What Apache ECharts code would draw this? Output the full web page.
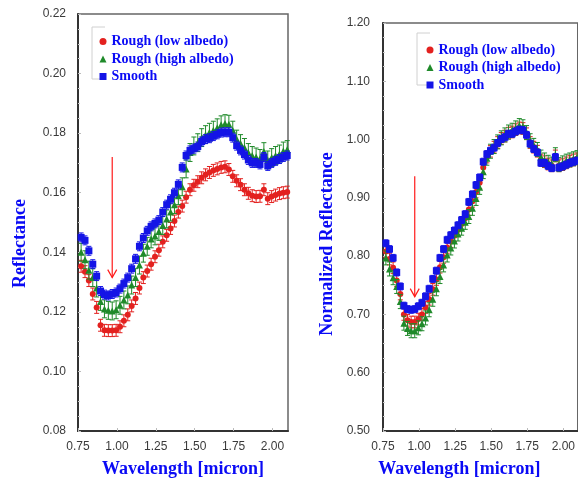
<!DOCTYPE html>
<html>
<head>
<meta charset="utf-8">
<script src="https://cdn.jsdelivr.net/npm/echarts@6/dist/echarts.min.js"></script>
<style>
html,body{margin:0;padding:0;background:#fff;}
#chart{width:578px;height:483px;}
</style>
</head>
<body>
<div id="chart"></div>
<script>
// ---- data ----
const seriesNames = ['Rough (low albedo)', 'Rough (high albedo)', 'Smooth'];

const wavelength = [0.77,0.795,0.82,0.845,0.87,0.895,0.92,0.945,0.97,0.995,1.02,1.045,1.07,1.095,1.12,1.145,1.17,1.195,1.22,1.245,1.27,1.295,1.32,1.345,1.37,1.395,1.42,1.445,1.47,1.495,1.52,1.545,1.57,1.595,1.62,1.645,1.67,1.695,1.72,1.745,1.77,1.795,1.82,1.845,1.87,1.895,1.92,1.945,1.97,1.995,2.02,2.045,2.07,2.095];

// Left panel: Reflectance
const reflLow = [0.1353,0.1335,0.1305,0.126,0.1215,0.1155,0.1138,0.1137,0.1137,0.1138,0.115,0.117,0.119,0.122,0.1245,0.128,0.1315,0.1337,0.136,0.1385,0.1407,0.1435,0.1457,0.148,0.1505,0.1535,0.1555,0.1585,0.161,0.1625,0.1637,0.165,0.166,0.1668,0.1675,0.168,0.1685,0.1687,0.1678,0.1655,0.164,0.1627,0.161,0.1598,0.159,0.1587,0.1588,0.161,0.158,0.1587,0.1592,0.1597,0.16,0.1602];
const reflHigh = [0.14,0.1375,0.134,0.1315,0.128,0.1235,0.121,0.1205,0.1203,0.1207,0.1222,0.124,0.1257,0.129,0.1315,0.1357,0.1397,0.142,0.1445,0.1455,0.147,0.149,0.1512,0.1535,0.156,0.159,0.162,0.168,0.1735,0.1757,0.1768,0.1785,0.1795,0.1803,0.181,0.1818,0.1828,0.1832,0.183,0.181,0.178,0.1765,0.1752,0.1735,0.1725,0.172,0.1715,0.1738,0.171,0.1718,0.1725,0.173,0.174,0.1745];
const reflSmooth = [0.145,0.144,0.1405,0.136,0.132,0.127,0.1258,0.1255,0.126,0.1265,0.1278,0.1295,0.1315,0.1345,0.1378,0.142,0.1448,0.1472,0.1487,0.1497,0.1508,0.1535,0.156,0.1578,0.16,0.1628,0.1685,0.1725,0.1742,0.1748,0.1755,0.1772,0.178,0.1783,0.179,0.1796,0.1802,0.1803,0.1803,0.1785,0.1758,0.1742,0.1728,0.171,0.17,0.17,0.1695,0.172,0.169,0.17,0.1707,0.1713,0.172,0.1725];

// Right panel: Normalized Reflectance
const normLow = [0.808,0.795,0.78,0.758,0.735,0.7,0.69,0.687,0.687,0.692,0.7,0.712,0.726,0.743,0.76,0.781,0.798,0.815,0.825,0.835,0.845,0.855,0.865,0.88,0.894,0.91,0.926,0.952,0.97,0.98,0.987,0.995,1.002,1.006,1.011,1.013,1.017,1.02,1.019,1.01,0.995,0.987,0.98,0.965,0.962,0.958,0.955,0.972,0.955,0.957,0.96,0.963,0.965,0.967];
const normHigh = [0.797,0.778,0.763,0.748,0.722,0.685,0.676,0.672,0.672,0.677,0.684,0.694,0.708,0.726,0.744,0.765,0.785,0.802,0.814,0.826,0.838,0.848,0.858,0.868,0.882,0.899,0.918,0.945,0.968,0.98,0.988,0.996,1.003,1.008,1.013,1.016,1.02,1.024,1.022,1.012,0.998,0.99,0.983,0.97,0.965,0.961,0.958,0.974,0.957,0.96,0.963,0.965,0.967,0.969];
const normSmooth = [0.822,0.812,0.797,0.772,0.748,0.715,0.709,0.708,0.709,0.714,0.72,0.731,0.744,0.761,0.775,0.797,0.812,0.828,0.836,0.844,0.853,0.862,0.872,0.893,0.906,0.922,0.935,0.962,0.975,0.981,0.986,0.994,1.001,1.004,1.01,1.01,1.014,1.017,1.016,1.008,0.993,0.984,0.978,0.96,0.96,0.955,0.951,0.97,0.952,0.954,0.957,0.96,0.962,0.964];

// error-bar half lengths (low, high, smooth)
const errLeft = [0.002, 0.003, 0.0015];
const errRight = [0.010, 0.012, 0.006];

// arrows: [wavelength, from value, to value]
const arrowLeft = [0.97, 0.172, 0.1315];
const arrowRight = [0.97, 0.937, 0.7305];

// ---- styling ----
const colors = ['#e3211f', '#1f8a2a', '#1414e6'];
const symbols = ['circle', 'triangle', 'rect'];
const symbolSizes = [6, 7, 7];
const blueText = '#0a0af5';
const serif = 'Liberation Serif, Times New Roman, serif';
const sans = 'Liberation Sans, Arial, sans-serif';

function pairs(vals) { return wavelength.map((w, i) => [w, vals[i]]); }

function errSeries(vals, err, color, gi, k) {
  return {
    type: 'custom', name: 'err' + gi + '_' + k, xAxisIndex: gi, yAxisIndex: gi,
    silent: true, z: 2 + k * 2,
    data: pairs(vals),
    renderItem(params, api) {
      const x = api.value(0), y = api.value(1);
      const t = api.coord([x, y + err]);
      const b = api.coord([x, y - err]);
      const st = { stroke: color, lineWidth: 1 };
      return { type: 'group', children: [
        { type: 'line', shape: { x1: t[0], y1: t[1], x2: b[0], y2: b[1] }, style: st },
        { type: 'line', shape: { x1: t[0] - 2.5, y1: t[1], x2: t[0] + 2.5, y2: t[1] }, style: st },
        { type: 'line', shape: { x1: b[0] - 2.5, y1: b[1], x2: b[0] + 2.5, y2: b[1] }, style: st }
      ]};
    }
  };
}
function markerSeries(vals, gi, k) {
  return {
    type: 'scatter', name: seriesNames[k], xAxisIndex: gi, yAxisIndex: gi,
    symbol: symbols[k], symbolSize: symbolSizes[k], z: 3 + k * 2,
    itemStyle: { color: colors[k], opacity: 1 },
    data: pairs(vals)
  };
}
function arrowSeries(a, gi) {
  return {
    type: 'custom', name: 'arrow' + gi, xAxisIndex: gi, yAxisIndex: gi, silent: true, z: 20,
    data: [a],
    renderItem(params, api) {
      const p1 = api.coord([api.value(0), api.value(1)]);
      const p2 = api.coord([api.value(0), api.value(2)]);
      const st = { stroke: '#ff1a1a', lineWidth: 1.2, fill: null };
      return { type: 'group', children: [
        { type: 'line', shape: { x1: p1[0], y1: p1[1], x2: p2[0], y2: p2[1] }, style: st },
        { type: 'polyline', shape: { points: [[p2[0] - 4.5, p2[1] - 8], [p2[0], p2[1]], [p2[0] + 4.5, p2[1] - 8]] }, style: st }
      ]};
    }
  };
}

function xAxis(gi, namePad) {
  return {
    type: 'value', gridIndex: gi, min: 0.75, max: 2.10, interval: 0.25,
    name: 'Wavelength [micron]', nameLocation: 'middle', nameGap: 29,
    nameTextStyle: { fontFamily: serif, fontWeight: 'bold', fontSize: 18, color: blueText, padding: namePad },
    axisLine: { show: true, lineStyle: { color: '#333', width: 2 } },
    axisTick: { show: true, inside: true, length: 3, lineStyle: { color: '#bbb' } },
    axisLabel: { fontFamily: sans, fontSize: 12, color: '#3a3a3a', margin: 10, showMaxLabel: false,
      formatter: v => v.toFixed(2) },
    splitLine: { show: false }
  };
}
function yAxis(gi, min, max, interval, name, gap, namePad, margin) {
  return {
    type: 'value', gridIndex: gi, min, max, interval,
    name, nameLocation: 'middle', nameGap: gap,
    nameTextStyle: { fontFamily: serif, fontWeight: 'bold', fontSize: 18, color: blueText, padding: namePad },
    axisLine: { show: true, lineStyle: { color: '#333', width: 2 } },
    axisTick: { show: true, inside: true, length: 3, lineStyle: { color: '#bbb' } },
    minorTick: { show: true, splitNumber: 4, length: 2, lineStyle: { color: '#ccc' } },
    axisLabel: { fontFamily: sans, fontSize: 12, color: '#3a3a3a', margin,
      formatter: v => v.toFixed(2) },
    splitLine: { show: false }
  };
}
function legend(left, top) {
  return {
    orient: 'vertical', left, top, data: seriesNames,
    itemWidth: 7, itemHeight: 7, itemGap: 2.5,
    textStyle: { fontFamily: serif, fontWeight: 'bold', fontSize: 14, color: blueText, lineHeight: 15 },
    selectedMode: false
  };
}

const series = [];
[[reflLow, reflHigh, reflSmooth], [normLow, normHigh, normSmooth]].forEach((set, gi) => {
  const errs = gi === 0 ? errLeft : errRight;
  set.forEach((vals, k) => {
    series.push(errSeries(vals, errs[k], colors[k], gi, k));
    series.push(markerSeries(vals, gi, k));
  });
});
series.push(arrowSeries(arrowLeft, 0));
series.push(arrowSeries(arrowRight, 1));

const chart = echarts.init(document.getElementById('chart'), null, { renderer: 'canvas' });
chart.setOption({
  backgroundColor: '#fff',
  animation: false,
  grid: [
    { left: 78, top: 14, width: 210, height: 419, show: true, borderColor: '#666', borderWidth: 1.5, backgroundColor: 'transparent' },
    { left: 383, top: 23, width: 202, height: 410, show: true, borderColor: '#666', borderWidth: 1.5, backgroundColor: 'transparent' }
  ],
  xAxis: [xAxis(0, [0, 0, 0, 0]), xAxis(1, [0, 42, 0, 0])],
  yAxis: [
    yAxis(0, 0.08, 0.22, 0.02, 'Reflectance', 49, [0, 42, 0, 0], 12),
    yAxis(1, 0.5, 1.2, 0.1, 'Normalized Reflectance', 47, [0, 34, 0, 0], 13)
  ],
  legend: [legend(94.5, 29), legend(421.5, 37.5)],
  graphic: [
    { type: 'polyline', shape: { points: [[105, 27], [92, 27], [92, 79], [105, 79]] }, style: { stroke: '#d0d0d0', fill: null, lineWidth: 1 } },
    { type: 'polyline', shape: { points: [[430, 33], [417, 33], [417, 85], [430, 85]] }, style: { stroke: '#d0d0d0', fill: null, lineWidth: 1 } }
  ],
  series
});
</script>
</body>
</html>
